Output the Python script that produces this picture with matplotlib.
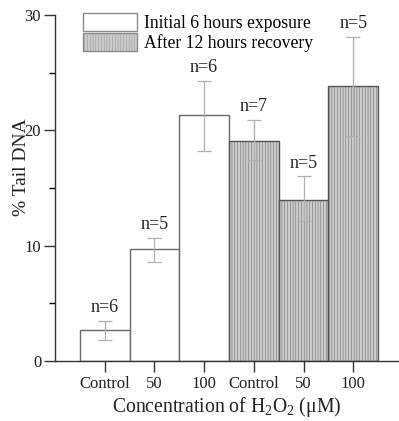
import matplotlib
matplotlib.use('Agg')
import matplotlib.pyplot as plt
from matplotlib.patches import Patch
import numpy as np

plt.rcParams['font.family'] = ['Liberation Serif', 'DejaVu Serif']
plt.rcParams['mathtext.fontset'] = 'custom'
plt.rcParams['mathtext.rm'] = 'Liberation Serif'
plt.rcParams['hatch.color'] = '#c0c0c0'
plt.rcParams['hatch.linewidth'] = 0.3

labels = ['Control', '50', '100', 'Control', '50', '100']
values = [2.7, 9.7, 21.3, 19.1, 14.0, 23.8]
err_low = [1.8, 8.6, 18.2, 17.4, 12.1, 19.5]
err_high = [3.5, 10.7, 24.3, 20.9, 16.0, 28.1]
n_labels = ['n=6', 'n=5', 'n=6', 'n=7', 'n=5', 'n=5']
groups = ['Initial 6 hours exposure', 'After 12 hours recovery']

fig = plt.figure(figsize=(3.99, 4.21), dpi=100)
ax = fig.add_axes([0.138, 0.1425, 0.862, 0.822])

x = np.arange(len(values))
vals = np.array(values)
yerr = [vals - np.array(err_low), np.array(err_high) - vals]

# first three bars: white, last three: grey with fine vertical hatching
ax.bar(x[:3], vals[:3], width=1.0, color='white', edgecolor='#6a6a6a', linewidth=1.0)
ax.bar(x[3:], vals[3:], width=1.0, color='#cbcbcb', edgecolor='#555555',
       linewidth=1.0, hatch='||||||')
ax.errorbar(x, vals, yerr=yerr, fmt='none', ecolor='#b0b0b0', elinewidth=0.9,
            capsize=5, capthick=0.9)

for xi, top, t in zip(x, err_high, n_labels):
    ax.text(xi, top + 0.4, t, ha='center', va='bottom', fontsize=13, color='#222222')

ax.set_xlim(-1.0, 5.92)
ax.set_ylim(0, 30)
ax.set_xticks(x)
ax.set_xticklabels(labels, fontsize=12)
ax.set_yticks([0, 10, 20, 30])
ax.set_yticks([5, 15, 25], minor=True)
ax.tick_params(axis='both', colors='#333333', labelcolor='#222222', labelsize=12)
ax.tick_params(axis='x', length=8, width=1.0, pad=3)
ax.tick_params(axis='y', which='major', length=8, width=1.0, pad=2)
ax.tick_params(axis='y', which='minor', length=4, width=1.0)

for side in ['top', 'right']:
    ax.spines[side].set_visible(False)
for side in ['left', 'bottom']:
    ax.spines[side].set_color('#333333')
    ax.spines[side].set_linewidth(1.0)

# the label sits close to the axis, slightly touching the "20" as in the original
ax.set_ylabel('% Tail DNA', fontsize=14, color='#222222')
ax.yaxis.set_label_coords(-0.072, 0.56)
ax.set_xlabel('Concentration of H$_2$O$_2$ (\u03bcM)', fontsize=14.2,
              color='#222222', labelpad=2)

handles = [Patch(facecolor='white', edgecolor='#8a8a8a', label=groups[0]),
           Patch(facecolor='#cbcbcb', edgecolor='#8a8a8a', hatch='||||||', label=groups[1])]
ax.legend(handles=handles, loc='upper left', bbox_to_anchor=(0.06, 1.025),
          frameon=False, fontsize=12.7, handlelength=3.1, handleheight=1.2,
          handletextpad=0.4, labelspacing=0.05, borderaxespad=0)

fig.savefig('out.png', dpi=100)
